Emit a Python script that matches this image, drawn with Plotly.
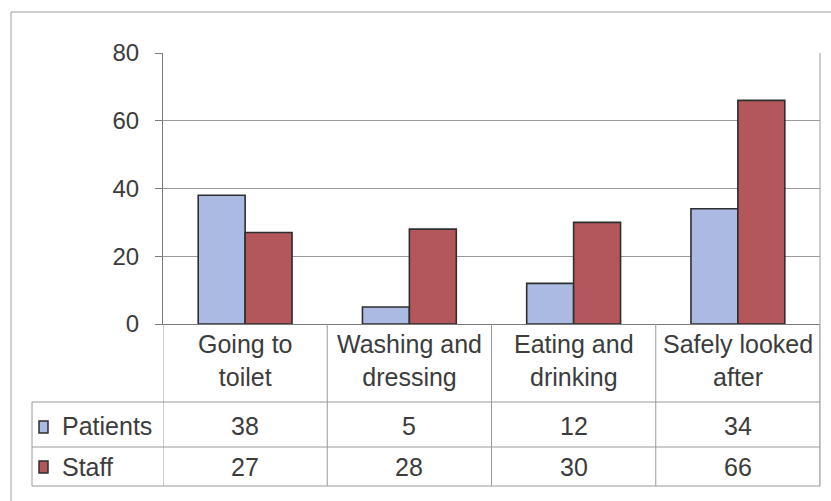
import plotly.graph_objects as go

# Data
categories = ["Going to toilet", "Washing and dressing", "Eating and drinking", "Safely looked after"]
category_labels = ["Going to<br>toilet", "Washing and<br>dressing", "Eating and<br>drinking", "Safely looked<br>after"]
series_names = ["Patients", "Staff"]
patients = [38, 5, 12, 34]
staff = [27, 28, 30, 66]
y_ticks = [0, 20, 40, 60, 80]

W, H = 831, 501
L, R, T, B = 163, 820, 53, 324  # plot area in pixels

FILL = {"Patients": "#AABAE3", "Staff": "#B3575B"}
EDGE = "#2e2e2e"
GRID = "#9a9a9a"
TEXT = "#3c3c3c"
FONT = "Liberation Sans, Arial, sans-serif"
TABLE_SIZE = 25


def px_x(px):
    return (px - L) / (R - L)


def px_y(py):
    return (B - py) / (B - T)


fig = go.Figure()
for name, vals in zip(series_names, [patients, staff]):
    fig.add_trace(go.Bar(
        x=categories, y=vals, name=name,
        marker=dict(color=FILL[name], line=dict(color=EDGE, width=1.6)),
        showlegend=False,
    ))

shapes = []


def line(x0, y0, x1, y1, color=GRID, width=1, xref="paper"):
    shapes.append(dict(type="line", xref=xref, yref="paper", x0=x0, y0=y0, x1=x1, y1=y1,
                       line=dict(color=color, width=width), layer="above"))


# outer chart border (top and left edges)
line(px_x(11), px_y(12), px_x(W + 5), px_y(12), color="#a0a0a0")
line(px_x(11), px_y(12), px_x(11), px_y(H + 5), color="#a0a0a0")

# right edge of the plot area and table
line(1, 1, 1, px_y(486))

# data table grid
row_lines = [402, 447, 486]
for ry in row_lines:
    line(px_x(32), px_y(ry), 1, px_y(ry))
line(px_x(32), px_y(402), px_x(32), px_y(486))
for i in range(len(categories) + 1):
    xb = (i - 0.5)
    shapes.append(dict(type="line", xref="x", yref="paper", x0=xb, x1=xb, y0=0, y1=px_y(486),
                       line=dict(color=GRID, width=1), layer="above"))

# legend keys in the table
key_rows = {"Patients": (421, 433), "Staff": (461, 473)}
for name, (ky0, ky1) in key_rows.items():
    shapes.append(dict(type="rect", xref="paper", yref="paper",
                       x0=px_x(39), x1=px_x(48), y0=px_y(ky1), y1=px_y(ky0),
                       fillcolor=FILL[name], line=dict(color=EDGE, width=1.5), layer="above"))

annotations = []
for i, lab in enumerate(category_labels):
    annotations.append(dict(x=i, y=px_y(360), xref="x", yref="paper", text=lab, showarrow=False,
                            xanchor="center", yanchor="middle",
                            font=dict(size=TABLE_SIZE, color=TEXT, family=FONT)))

row_centers = {"Patients": 426, "Staff": 467}
for name, vals in zip(series_names, [patients, staff]):
    annotations.append(dict(x=px_x(60), y=px_y(row_centers[name]), xref="paper", yref="paper",
                            text=name, showarrow=False, xanchor="left", yanchor="middle",
                            font=dict(size=TABLE_SIZE, color=TEXT, family=FONT)))
    for i, v in enumerate(vals):
        annotations.append(dict(x=i, y=px_y(row_centers[name]), xref="x", yref="paper",
                                text=str(v), showarrow=False, xanchor="center", yanchor="middle",
                                font=dict(size=TABLE_SIZE, color=TEXT, family=FONT)))

fig.update_layout(
    width=W, height=H,
    margin=dict(l=L, r=W - R, t=T, b=H - B, pad=0),
    paper_bgcolor="white", plot_bgcolor="white",
    barmode="group", bargap=0.4286, bargroupgap=0,
    shapes=shapes, annotations=annotations,
    font=dict(family=FONT, color=TEXT),
    xaxis=dict(range=[-0.5, 3.5], showticklabels=False, showgrid=False, ticks="",
               showline=True, linecolor="#7a7a7a", linewidth=1, zeroline=False, fixedrange=True),
    yaxis=dict(range=[0, 80], tickvals=y_ticks, showgrid=True, gridcolor=GRID, gridwidth=1,
               ticks="outside", ticklen=7, tickcolor="#7a7a7a", showline=True, linecolor="#7a7a7a",
               linewidth=1, zeroline=False, ticklabelstandoff=11,
               tickfont=dict(size=24, color=TEXT, family=FONT), fixedrange=True),
)

fig.write_html("out.html")
